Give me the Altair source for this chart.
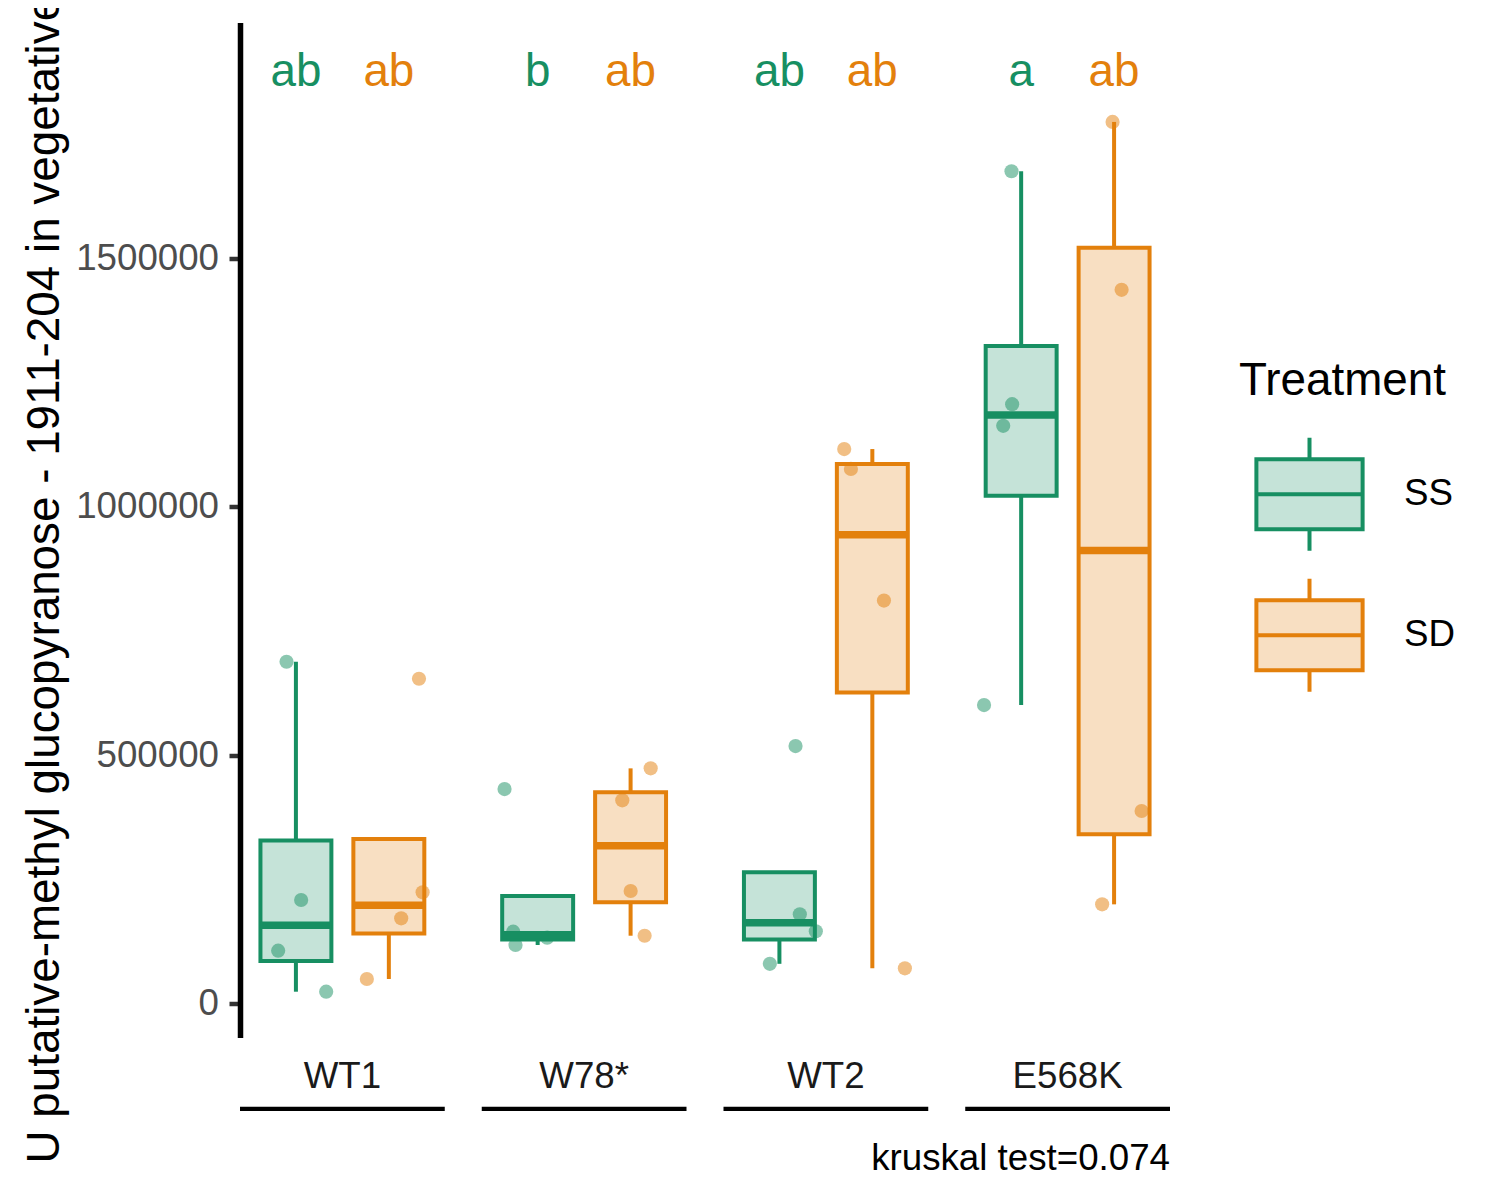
import altair as alt
import pandas as pd

FONT = "Liberation Sans"

genotypes = ["WT1", "W78*", "WT2", "E568K"]
treatments = ["SS", "SD"]
line_colors = ["#178F62", "#E3800C"]
box_fills = ["rgba(23,143,98,0.25)", "rgba(227,128,12,0.25)"]

# measured values (4 plants per group)
wt1_ss = [688300, 209100, 107200, 24700]
wt1_sd = [654100, 224600, 172300, 50300]
w78_ss = [432300, 145400, 118600, 133300]
w78_sd = [473900, 409600, 227200, 137300]
wt2_ss = [518800, 180400, 146200, 80800]
wt2_sd = [1116100, 1076100, 811300, 71800]
e568k_ss = [1674900, 1206400, 1162800, 601200]
e568k_sd = [1774000, 1436300, 388100, 200400]

# horizontal jitter (fraction of the dodge step)
jit_wt1_ss = [-0.10, 0.057, -0.19, 0.326]
jit_wt1_sd = [0.323, 0.362, 0.132, -0.237]
jit_w78_ss = [-0.355, -0.262, -0.237, 0.103]
jit_w78_sd = [0.215, -0.09, 0.0, 0.15]
jit_wt2_ss = [0.174, 0.22, 0.392, -0.102]
jit_wt2_sd = [-0.303, -0.231, 0.124, 0.349]
jit_e568k_ss = [-0.103, -0.096, -0.192, -0.398]
jit_e568k_sd = [-0.017, 0.08, 0.295, -0.129]

# compact letter display
letters_ss = ["ab", "b", "ab", "a"]
letters_sd = ["ab", "ab", "ab", "ab"]
letter_y = 1874000

y_title = "U putative-methyl glucopyranose - 1911-204 in vegetative"
caption = "kruskal test=0.074"

groups = [
    ("WT1", "SS", wt1_ss, jit_wt1_ss), ("WT1", "SD", wt1_sd, jit_wt1_sd),
    ("W78*", "SS", w78_ss, jit_w78_ss), ("W78*", "SD", w78_sd, jit_w78_sd),
    ("WT2", "SS", wt2_ss, jit_wt2_ss), ("WT2", "SD", wt2_sd, jit_wt2_sd),
    ("E568K", "SS", e568k_ss, jit_e568k_ss), ("E568K", "SD", e568k_sd, jit_e568k_sd),
]
rows = []
for g, t, vals, jits in groups:
    for v, j in zip(vals, jits):
        rows.append({"Genotype": g, "Treatment": t, "value": v,
                     "jx": treatments.index(t) + 1 + j})
df = pd.DataFrame(rows)

let_rows = []
for i, g in enumerate(genotypes):
    let_rows.append({"Genotype": g, "Treatment": "SS", "label": letters_ss[i], "ly": letter_y})
    let_rows.append({"Genotype": g, "Treatment": "SD", "label": letters_sd[i], "ly": letter_y})
let_df = pd.DataFrame(let_rows)
geno_df = pd.DataFrame({"Genotype": genotypes})

W, H = 930, 1015

x_enc = alt.X("Genotype:N", sort=genotypes,
              scale=alt.Scale(paddingInner=0.153, paddingOuter=0),
              axis=alt.Axis(title=None, domain=False, ticks=False, tickSize=0,
                            labelPadding=21, labelFontSize=36.7, labelColor="#1A1A1A",
                            labelFont=FONT, labelAngle=0))
off_enc = alt.XOffset("Treatment:N", sort=treatments,
                      scale=alt.Scale(type="band", domain=treatments,
                                      paddingInner=0.2366, paddingOuter=0.22))
y_scale = alt.Scale(domain=[-67400, 1974000], nice=False, zero=False)
y_axis = alt.Axis(values=[0, 500000, 1000000, 1500000], format="d", grid=False,
                  domainColor="black", domainWidth=5.5, tickColor="#333333", tickWidth=4.5,
                  tickSize=11, labelPadding=10.5, labelFontSize=36.7, labelColor="#4D4D4D",
                  labelFont=FONT, title=y_title, titleFont=FONT, titleFontSize=45.8,
                  titleColor="black", titleFontWeight="normal", titleAngle=270,
                  titleAlign="left", titleBaseline="alphabetic", titleX=-182, titleY=1140.5)

# legend-bearing scales (fill/stroke) and a legend-less colour scale for the other layers
stroke_scale = alt.Scale(domain=treatments, range=line_colors)
fill_scale = alt.Scale(domain=treatments, range=box_fills)
color_scale = alt.Scale(domain=treatments[::-1], range=line_colors[::-1])

key_path = ("M-0.94,-0.62H0.94V0.62H-0.94Z"
            "M0,-1V-0.62M0,0.62V1M-0.94,0H0.94")
legend = alt.Legend(title="Treatment", orient="none", legendX=999, legendY=336.5,
                    symbolType=key_path, symbolSize=12769, symbolStrokeWidth=4,
                    symbolOffset=12, labelOffset=36, rowPadding=12, titlePadding=31,
                    titleFont=FONT, titleFontSize=45.8, titleFontWeight="normal",
                    titleColor="black", titleLimit=600, labelFont=FONT, labelFontSize=36.7,
                    labelColor="black", padding=0)

stats = alt.Chart(df).transform_joinaggregate(
    q1="q1(value)", q3="q3(value)", groupby=["Genotype", "Treatment"]
).transform_calculate(
    lo_in="datum.value >= datum.q1 - 1.5 * (datum.q3 - datum.q1) ? datum.value : null",
    hi_in="datum.value <= datum.q3 + 1.5 * (datum.q3 - datum.q1) ? datum.value : null",
).transform_aggregate(
    q1="min(q1)", q3="min(q3)", median="median(value)",
    lower="min(lo_in)", upper="max(hi_in)", groupby=["Genotype", "Treatment"]
).transform_calculate(
    lower_w="min(datum.lower, datum.q1)",
    upper_w="max(datum.upper, datum.q3)",
)

color_enc = alt.Color("Treatment:N", scale=color_scale, legend=None)

underline = alt.Chart(geno_df).mark_bar(color="black").encode(
    x=x_enc, y=alt.value(1084.2), y2=alt.value(1088.5)
)

points = alt.Chart(df).mark_circle(size=201, opacity=0.5).encode(
    x=x_enc,
    xOffset=alt.XOffset("jx:Q", scale=alt.Scale(domain=[0.4, 2.6], nice=False, zero=False)),
    y=alt.Y("value:Q", scale=y_scale, axis=y_axis),
    color=color_enc,
)

whisker_lo = stats.mark_rule(strokeWidth=4).encode(
    x=x_enc, xOffset=off_enc,
    y=alt.Y("lower_w:Q", scale=y_scale, axis=y_axis), y2="q1:Q",
    color=color_enc,
)
whisker_hi = stats.mark_rule(strokeWidth=4).encode(
    x=x_enc, xOffset=off_enc,
    y=alt.Y("q3:Q", scale=y_scale, axis=y_axis), y2="upper_w:Q",
    color=color_enc,
)

box = stats.mark_bar(strokeWidth=4).encode(
    x=x_enc, xOffset=off_enc,
    y=alt.Y("q1:Q", scale=y_scale, axis=y_axis), y2="q3:Q",
    fill=alt.Fill("Treatment:N", scale=fill_scale, legend=legend),
    stroke=alt.Stroke("Treatment:N", scale=stroke_scale, legend=legend),
)

median = stats.mark_bar(strokeWidth=7.5, filled=False).encode(
    x=x_enc, xOffset=off_enc,
    y=alt.Y("median:Q", scale=y_scale, axis=y_axis), y2="median:Q",
    color=color_enc,
)

letters = alt.Chart(let_df).mark_text(fontSize=45.8, baseline="middle", font=FONT).encode(
    x=x_enc, xOffset=off_enc,
    y=alt.Y("ly:Q", scale=y_scale, axis=y_axis),
    text="label:N",
    color=color_enc,
)

chart = alt.layer(underline, points, whisker_lo, whisker_hi, box, median, letters).resolve_scale(
    xOffset="independent"
).properties(
    width=W, height=H,
    autosize=alt.AutoSizeParams(type="none"),
    padding={"left": 232, "top": 14.5, "right": 322, "bottom": 154.5},
    title=alt.TitleParams(caption, orient="bottom", anchor="end", frame="group",
                          fontSize=36.7, fontWeight="normal", font=FONT,
                          color="black", offset=-22),
).configure(font=FONT).configure_view(stroke=None)

chart.save("out.html", embed_options={"renderer": "svg", "actions": False})
